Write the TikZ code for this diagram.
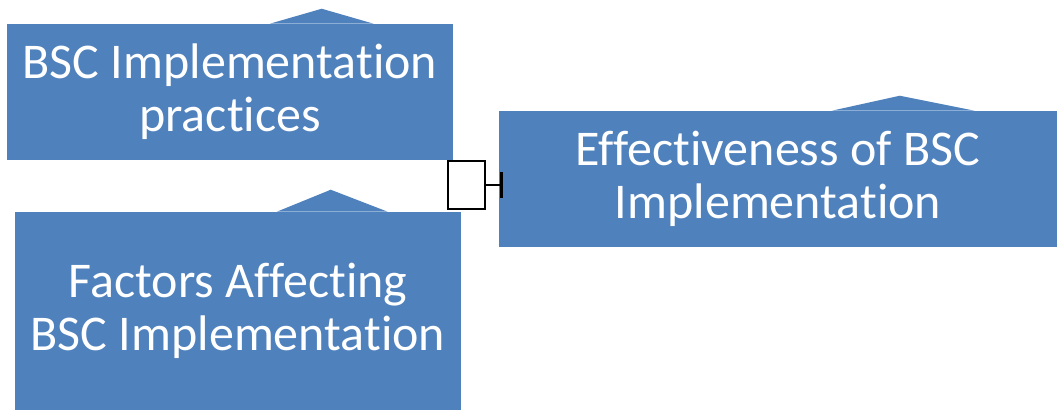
\documentclass[tikz,border=0pt]{standalone}
\usepackage{fontspec}
\setmainfont{Carlito}[Ligatures=NoCommon]
\usetikzlibrary{arrows.meta}
\definecolor{boxblue}{HTML}{4F81BD}
\begin{document}
\begin{tikzpicture}[x=0.75pt,y=-0.75pt]
\tikzset{concept/.style={
rectangle,fill=boxblue,text=white,
inner sep=0pt,
align=center,
font=\fontsize{37.5}{40}\selectfont}}

\tikzset{junction/.style={
rectangle,draw,black,line width=1.2pt,
fill=white,inner sep=0pt,
minimum width=27.75pt,
minimum height=36pt}}

\useasboundingbox (0,0) rectangle (1057,410);

\node[concept,minimum width=334.5pt,minimum height=102pt,name=practices]
at (230,92) {BSC Implementation\\practices};
\fill[boxblue] (practices.north west) ++(263,0)
-- ++(52,-15) -- ++(52,15) -- cycle;

\node[concept,minimum width=334.5pt,minimum height=148.5pt,name=factors]
at (238,311) {Factors Affecting\\BSC Implementation};
\fill[boxblue] (factors.north west) ++(262,0)
-- ++(54,-22) -- ++(57,22) -- cycle;

\node[concept,minimum width=418.5pt,minimum height=102pt,name=effect]
at (778,179) {Effectiveness of BSC\\Implementation};
\fill[boxblue] (effect.north west) ++(333,0)
-- ++(68,-15) -- ++(75,15) -- cycle;

\node[junction,name=junction] at (466.5,185) {};

\draw[line width=2.2pt,-{Bar[width=19pt,line width=2.4pt]}]
(junction.east) -- ([xshift=3pt]junction.east -| effect.west);

\end{tikzpicture}
\end{document}
